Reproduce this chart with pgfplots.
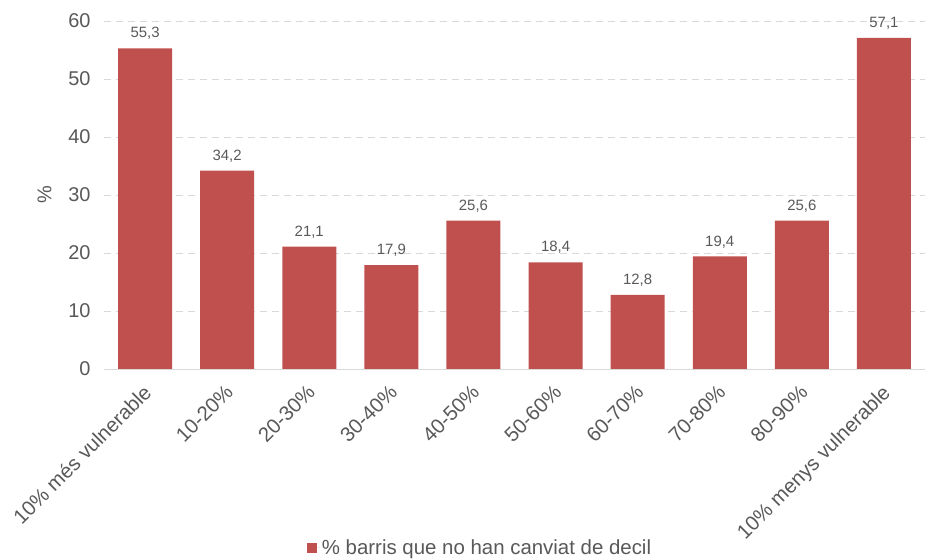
\documentclass[border=0pt]{standalone}
\usepackage{pgfplots}
\pgfplotsset{compat=1.18}
\usepackage{fontspec}
\setmainfont{Liberation Sans}
\definecolor{barred}{HTML}{C0504D}
\definecolor{txtgray}{HTML}{595959}
\definecolor{gridgray}{HTML}{D9D9D9}
\begin{document}
\begin{tikzpicture}
\path[use as bounding box] (0,0) rectangle (925bp,559bp);
\begin{axis}[
    at={(104bp,190bp)}, anchor=south west,
    scale only axis,
    width=821bp, height=348bp,
    ymin=0, ymax=60, ytick={0,10,...,60},
    xmin=-0.5, xmax=9.5,
    xtick=data,
    xticklabels={10\% més vulnerable,10-20\%,20-30\%,30-40\%,40-50\%,50-60\%,60-70\%,70-80\%,80-90\%,10\% menys vulnerable},
    x tick label style={xshift=-3bp, yshift=-13bp, rotate=45, anchor=north east, font=\fontsize{20.5}{22}\selectfont, text=txtgray, inner sep=1pt},
    y tick label style={font=\fontsize{20}{22}\selectfont, text=txtgray, xshift=-10bp},
    /pgf/number format/assume math mode=true,
    ylabel={\%}, ylabel style={font=\fontsize{20}{22}\selectfont, text=txtgray},
    ylabel shift=10bp,
    axis x line*=bottom, axis y line*=left,
    y axis line style={draw=none},
    x axis line style={draw=gridgray, line width=1pt, -},
    ymajorgrids, grid style={gridgray, dash pattern=on 7bp off 5bp, line width=0.8pt},
    major tick length=0pt,
    ybar, bar width=54bp,
    nodes near coords,
    nodes near coords style={font=\fontsize{15}{17}\selectfont, text=txtgray, yshift=5bp,
        /pgf/number format/use comma, /pgf/number format/fixed,
        /pgf/number format/fixed zerofill, /pgf/number format/precision=1},
    legend style={at={(0.458,-0.514)}, anchor=center, draw=none, font=\fontsize{20.5}{22}\selectfont, text=txtgray},
    legend image code/.code={\fill[barred] (0bp,-5bp) rectangle (10bp,5bp); \path (0bp,0bp) -- (13bp,0bp);},
    clip=false,
]
\addplot[fill=barred, draw=none] coordinates {
    (0,55.3)(1,34.2)(2,21.1)(3,17.9)(4,25.6)(5,18.4)(6,12.8)(7,19.4)(8,25.6)(9,57.1)
};
\addlegendentry{\% barris que no han canviat de decil}
\end{axis}
\end{tikzpicture}
\end{document}
